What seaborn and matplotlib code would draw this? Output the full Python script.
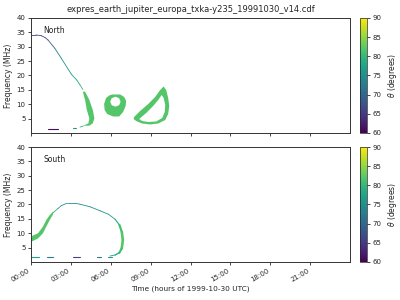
import matplotlib
matplotlib.use("Agg")
import matplotlib.pyplot as plt
import seaborn as sns
import numpy as np
import pandas as pd
from matplotlib.colors import Normalize
from matplotlib.cm import ScalarMappable

# ---------------- data (hours, MHz, theta degrees) ----------------
title = "expres_earth_jupiter_europa_txka-y235_19991030_v14.cdf"
xtick_hours = [0, 3, 6, 9, 12, 15, 18, 21]
xtick_labels = ["00:00", "03:00", "06:00", "09:00", "12:00", "15:00", "18:00", "21:00"]
ytick_vals = [5, 10, 15, 20, 25, 30, 35, 40]
cbar_ticks = [60, 65, 70, 75, 80, 85, 90]

# North hemisphere
north_line_t = [0.02, 0.38, 0.78, 1.06, 1.28, 1.79, 2.28, 3.04, 3.44, 3.69, 3.90]
north_line_f = [34.1, 34.1, 33.84, 33.2, 32.35, 29.46, 25.98, 20.42, 18.43, 16.70, 15.13]
north_line_theta = [66, 66, 66, 66, 67, 71, 75, 76, 77, 79, 81]

north_band_t = [3.90, 4.07, 4.20, 4.39, 4.32, 3.94, 4.39, 4.65, 4.77, 4.65, 4.39, 4.07]
north_band_f = [14.37, 11.48, 8.0, 5.11, 3.37, 2.54, 2.54, 3.37, 5.11, 8.0, 11.48, 14.37]
north_band_theta = 82

north_tail_t = [3.94, 3.69]
north_tail_f = [2.45, 2.05]
north_tail_theta = 79

north_dash_t0 = [3.14, 1.30]
north_dash_t1 = [3.37, 2.06]
north_dash_f = [1.84, 1.39]
north_dash_theta = [76, 61]

blob1_t = [6.10, 6.71, 7.01, 7.16, 7.12, 6.93, 6.63, 6.18, 5.73, 5.54, 5.50, 5.65, 5.88]
blob1_f = [13.39, 13.39, 12.52, 11.13, 9.39, 7.30, 5.74, 5.74, 6.61, 8.0, 10.09, 12.17, 13.04]
blob1_hole_t = [6.35, 6.63, 6.74, 6.63, 6.35, 6.07, 5.96, 6.07]
blob1_hole_f = [12.63, 12.10, 10.89, 9.67, 9.15, 9.67, 10.89, 12.10]
blob1_theta = 82

blob2_t = [7.76, 8.21, 8.82, 9.34, 9.72, 9.98, 10.17, 10.32, 10.40, 10.32, 10.10, 9.57, 8.97, 8.36, 7.91, 7.72]
blob2_f = [5.57, 7.65, 10.09, 12.52, 14.96, 16.17, 14.96, 12.17, 9.39, 6.61, 4.52, 3.30, 2.96, 3.30, 4.17, 4.87]
blob2_hole_t = [8.14, 8.67, 9.19, 9.57, 9.83, 9.98, 10.10, 10.06, 9.87, 9.42, 8.82, 8.36]
blob2_hole_f = [4.87, 6.96, 9.39, 11.48, 13.22, 12.17, 9.74, 7.30, 5.22, 4.0, 3.83, 4.17]
blob2_theta = 82

# South hemisphere
south_band_t = [0.0, 0.53, 0.90, 1.15, 1.41, 1.66, 1.66, 1.41, 1.15, 0.90, 0.53, 0.0]
south_band_f = [8.9, 10.0, 12.3, 14.6, 16.3, 17.5, 16.6, 14.6, 12.3, 10.0, 8.2, 7.0]
south_band_theta = 82

south_line_t = [1.66, 2.03, 2.28, 2.69, 3.32, 3.69, 4.45, 5.20, 5.83, 6.33, 6.65, 6.83, 6.91, 6.83, 6.65, 6.33, 5.95]
south_line_f = [17.1, 18.6, 19.6, 20.4, 20.4, 20.1, 19.2, 17.8, 16.6, 14.85, 12.9, 10.5, 7.65, 4.76, 3.23, 2.43, 2.09]
south_line_theta = [80, 78, 76, 75, 75, 75, 75, 75, 76, 77, 80, 82, 82, 82, 80, 78, 76]
south_line_width = [0.6, 0.6, 0.6, 0.6, 0.6, 0.6, 0.6, 0.6, 0.6, 0.8, 1.6, 1.9, 1.9, 1.6, 1.0, 0.6]

south_dash_t0 = [0.02, 1.20, 3.17, 4.95, 5.83]
south_dash_t1 = [0.60, 1.66, 3.72, 5.25, 6.08]
south_dash_f = [1.63, 1.63, 1.63, 1.63, 1.63]
south_dash_theta = [77, 72, 66, 72, 76]

# ---------------- plotting ----------------
sns.set_style("ticks")
plt.rcParams['font.family'] = ['DejaVu Sans']

cmap = plt.get_cmap("viridis")
norm = Normalize(60, 90)
col = lambda th: cmap(norm(th))

fig = plt.figure(figsize=(4, 3), dpi=100)
ax_n = fig.add_axes([0.0775, 0.5567, 0.7975, 0.3833])
ax_s = fig.add_axes([0.0775, 0.1267, 0.7975, 0.3833])
cax_n = fig.add_axes([0.9, 0.5567, 0.0175, 0.3833])
cax_s = fig.add_axes([0.9, 0.1267, 0.0175, 0.3833])


def seg(ax, t, f, th, lw=0.6):
    d = pd.DataFrame({"t": t, "f": f})
    sns.lineplot(data=d, x="t", y="f", ax=ax, color=col(th), lw=lw,
                 sort=False, estimator=None, legend=False)


# North
for i in range(len(north_line_t) - 1):
    seg(ax_n, north_line_t[i:i + 2], north_line_f[i:i + 2],
        (north_line_theta[i] + north_line_theta[i + 1]) / 2)
ax_n.fill(north_band_t, north_band_f, color=col(north_band_theta), lw=0)
seg(ax_n, north_tail_t, north_tail_f, north_tail_theta)
for t0, t1, fv, th in zip(north_dash_t0, north_dash_t1, north_dash_f, north_dash_theta):
    seg(ax_n, [t0, t1], [fv, fv], th, lw=0.8)
ax_n.fill(blob1_t, blob1_f, color=col(blob1_theta), lw=0)
ax_n.fill(blob1_hole_t, blob1_hole_f, color="white", lw=0)
ax_n.fill(blob2_t, blob2_f, color=col(blob2_theta), lw=0)
ax_n.fill(blob2_hole_t, blob2_hole_f, color="white", lw=0)

# South
ax_s.fill(south_band_t, south_band_f, color=col(south_band_theta), lw=0)
for i in range(len(south_line_t) - 1):
    seg(ax_s, south_line_t[i:i + 2], south_line_f[i:i + 2],
        (south_line_theta[i] + south_line_theta[i + 1]) / 2, lw=south_line_width[i])
for t0, t1, fv, th in zip(south_dash_t0, south_dash_t1, south_dash_f, south_dash_theta):
    seg(ax_s, [t0, t1], [fv, fv], th, lw=0.8)

for ax, name in ((ax_n, "North"), (ax_s, "South")):
    ax.set_xlim(0, 24)
    ax.set_ylim(0, 40)
    ax.set_yticks(ytick_vals)
    ax.set_xticks(xtick_hours)
    ax.set_ylabel("Frequency (MHz)", fontsize=5.5)
    ax.yaxis.set_label_coords(-0.057, 0.5)
    ax.tick_params(labelsize=5, length=2.5, width=0.6, pad=1.5)
    for s in ax.spines.values():
        s.set_linewidth(0.7)
        s.set_color("#333333")
    ax.text(0.038, 0.895, name, transform=ax.transAxes, fontsize=5.5,
            va="center", ha="left", color="#222222")

ax_n.set_xticklabels([])
ax_n.set_xlabel("")
ax_s.set_xticklabels(xtick_labels, rotation=30, ha="right")
ax_s.set_xlabel("Time (hours of 1999-10-30 UTC)", fontsize=5.3, labelpad=2)
ax_n.set_title(title, fontsize=6, pad=4)

for cax in (cax_n, cax_s):
    cb = fig.colorbar(ScalarMappable(norm=norm, cmap=cmap), cax=cax)
    cb.set_ticks(cbar_ticks)
    cb.ax.tick_params(labelsize=5, length=2.5, width=0.6, pad=1.5)
    cb.outline.set_linewidth(0.5)
    cb.set_label(r"$\theta$ (degrees)", fontsize=5.5, labelpad=3)

fig.savefig("out.png", dpi=100)
